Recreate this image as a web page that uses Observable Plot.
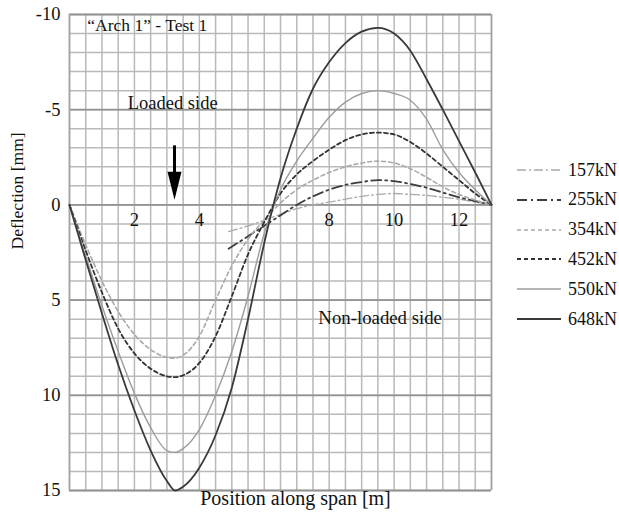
<!DOCTYPE html>
<html><head><meta charset="utf-8">
<script src="https://cdn.jsdelivr.net/npm/d3@7"></script>
<script src="https://cdn.jsdelivr.net/npm/@observablehq/plot@0.6"></script>
<style>
body{margin:0;background:#fff;}
#wrap{position:relative;width:619px;height:514px;font-family:"Liberation Serif",Tinos,Times,"DejaVu Serif",serif;color:#111;}
.row{position:absolute;left:516px;height:20px;display:flex;align-items:center;font-size:18px;}
.row span{margin-left:6px;}
</style></head><body><div id="wrap"></div>
<script>
// ---- data ----
const loads = ["157kN","255kN","354kN","452kN","550kN","648kN"];
const posFull = [0,0.5,1,1.5,2,2.5,3,3.25,3.5,4,4.5,5,5.5,6,6.5,7,7.5,8,8.5,9,9.5,10,10.5,11,11.5,12,12.5,13];
const posPart = [4.9,5.5,6,6.5,7,7.5,8,8.5,9,9.5,10,10.5,11,11.5,12,12.5,13];
const d157 = [1.4,1.1,0.8,0.5,0.2,0.0,-0.15,-0.3,-0.45,-0.55,-0.6,-0.55,-0.5,-0.4,-0.3,-0.15,0];
const d255 = [2.3,1.65,1.1,0.55,0.0,-0.45,-0.8,-1.05,-1.2,-1.3,-1.25,-1.1,-0.9,-0.65,-0.4,-0.2,0];
const d354 = [0,2.1,4.0,5.6,6.8,7.6,8.0,8.05,7.9,6.9,5.0,3.2,1.8,0.8,-0.1,-0.8,-1.3,-1.7,-2.0,-2.2,-2.3,-2.2,-1.9,-1.45,-0.95,-0.55,-0.25,0];
const d452 = [0,2.4,4.6,6.5,7.8,8.6,9.0,9.05,8.95,8.3,6.9,4.8,2.6,0.9,-0.6,-1.6,-2.3,-2.9,-3.4,-3.7,-3.8,-3.7,-3.3,-2.7,-2.0,-1.3,-0.6,0];
const d550 = [0,2.7,5.3,7.7,9.9,11.7,12.9,13.0,12.8,11.8,10.0,7.7,4.8,1.5,-0.8,-2.3,-3.5,-4.6,-5.4,-5.85,-6.0,-5.85,-5.5,-4.5,-2.9,-1.7,-0.8,0];
const d648 = [0,2.9,5.7,8.4,10.8,12.9,14.5,15.0,14.8,13.8,12.1,9.6,6.0,2.0,-1.4,-4.0,-6.1,-7.5,-8.5,-9.1,-9.3,-9.0,-8.1,-6.6,-5.0,-3.35,-1.7,0];
const xTickLabels = [2,4,8,10,12];
const yTickLabels = [-10,-5,0,5,10,15];

// ---- styles ----
const FONT = "'Liberation Serif',Tinos,Times,'DejaVu Serif',serif";
const styles = {
  "157kN": {stroke:"#a9a9a9", strokeWidth:1.3, dash:"9,3,2,3"},
  "255kN": {stroke:"#3d3d3d", strokeWidth:1.8, dash:"10,4,2,4"},
  "354kN": {stroke:"#a9a9a9", strokeWidth:1.6, dash:"4,3"},
  "452kN": {stroke:"#333333", strokeWidth:1.8, dash:"4,3"},
  "550kN": {stroke:"#9c9c9c", strokeWidth:1.4, dash:null},
  "648kN": {stroke:"#3a3a3a", strokeWidth:1.8, dash:null}
};
const seriesData = {
  "157kN": posPart.map((x,i)=>({x, y:d157[i]})),
  "255kN": posPart.map((x,i)=>({x, y:d255[i]})),
  "354kN": posFull.map((x,i)=>({x, y:d354[i]})),
  "452kN": posFull.map((x,i)=>({x, y:d452[i]})),
  "550kN": posFull.map((x,i)=>({x, y:d550[i]})),
  "648kN": posFull.map((x,i)=>({x, y:d648[i]}))
};

const arrowMark = (index, scales) => {
  const px = scales.x(3.25), a = scales.y(-3.1), b = scales.y(-0.25);
  const g = d3.create("svg:g");
  g.append("line").attr("x1",px).attr("x2",px).attr("y1",a).attr("y2",b-26)
    .attr("stroke","#000").attr("stroke-width",3);
  g.append("path").attr("d",`M${px-7},${b-28}L${px+7},${b-28}L${px},${b}Z`).attr("fill","#000");
  return g.node();
};

const lineMarks = loads.map(k => Plot.line(seriesData[k], {
  x:"x", y:"y", curve:"monotone-x",
  stroke: styles[k].stroke, strokeWidth: styles[k].strokeWidth,
  strokeDasharray: styles[k].dash || undefined
}));

const chart = Plot.plot({
  width: 619, height: 514,
  marginLeft: 69, marginRight: 128, marginTop: 14, marginBottom: 24,
  style: {fontFamily: FONT, fontSize:"18px", color:"#111", background:"#fff"},
  x: {domain:[0,13], axis:null},
  y: {domain:[-10,15], reverse:true, axis:null},
  marks: [
    Plot.ruleX(d3.range(0,13.01,0.5), {stroke:"#b9b9b9", strokeWidth:1.5}),
    Plot.ruleY(d3.range(-10,15.01,1), {stroke:"#b9b9b9", strokeWidth:1.5}),
    Plot.ruleY(yTickLabels, {stroke:"#939393", strokeWidth:1.8}),
    Plot.ruleX([0,13], {stroke:"#a3a3a3", strokeWidth:1.6}),
    Plot.axisY({ticks: yTickLabels, tickSize:0, tickPadding:9, tickFormat:d=>String(d), fontSize:18.5, label:null, fontFamily: FONT}),
    Plot.text(xTickLabels, {x:d=>d, y:0, dy:15, text:d=>String(d), fontSize:18.5, fill:"#111", fontFamily: FONT}),
    Plot.text(["Deflection [mm]"], {frameAnchor:"left", dx:-52, dy:-3, rotate:-90, fontSize:17.5, fill:"#111", fontFamily: FONT}),
    Plot.text(["Position along span [m]"], {frameAnchor:"bottom", dx:15, dy:14, fontSize:20, fill:"#111", fontFamily: FONT}),
    Plot.text(["\u201CArch 1\u201D - Test 1"], {x:0.55, y:-9.45, textAnchor:"start", fontSize:17.5, fill:"#111", fontFamily: FONT}),
    Plot.text(["Loaded side"], {x:3.18, y:-5.37, fontSize:18.5, fill:"#111", fontFamily: FONT}),
    Plot.text(["Non-loaded side"], {x:9.57, y:5.95, fontSize:18.8, fill:"#111", fontFamily: FONT}),
    arrowMark,
    ...lineMarks
  ]
});

const wrap = document.getElementById("wrap");
wrap.appendChild(chart);

// legend
const rowTop = 170, rowStep = 29.8;
loads.forEach((k,i) => {
  const row = document.createElement("div");
  row.className = "row";
  row.style.top = (rowTop + i*rowStep - 10) + "px";
  const s = styles[k];
  row.innerHTML = `<svg width="46" height="10"><line x1="1" x2="45" y1="5" y2="5" stroke="${s.stroke}" stroke-width="${s.strokeWidth}" ${s.dash?`stroke-dasharray="${s.dash}"`:""}/></svg><span>${k}</span>`;
  wrap.appendChild(row);
});
</script></body></html>
